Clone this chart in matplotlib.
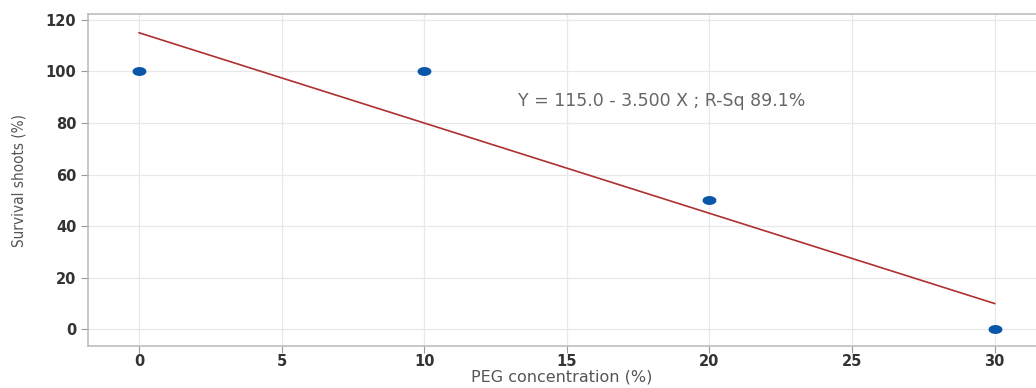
import numpy as np
import matplotlib
matplotlib.use("Agg")
import matplotlib.pyplot as plt

# data
peg = [0, 10, 20, 30]
survival = [100, 100, 50, 0]
xticks = [0, 5, 10, 15, 20, 25, 30]
yticks = [0, 20, 40, 60, 80, 100, 120]

# linear fit (gives Y = 115.0 - 3.500 X)
slope, intercept = np.polyfit(peg, survival, 1)
fit_x = np.array([min(peg), max(peg)])
fit_y = intercept + slope * fit_x
r = np.corrcoef(peg, survival)[0, 1]
eq = "Y = %.1f - %.3f X ; R-Sq %.1f%%" % (intercept, -slope, r ** 2 * 100)

# flattened ellipse marker like the original dots
t = np.linspace(0, 2 * np.pi, 40)
ell = np.column_stack([np.cos(t), 0.6 * np.sin(t)])

fig = plt.figure(figsize=(10.36, 3.88), dpi=100)
ax = fig.add_axes([0.085, 0.108, 0.915, 0.856])

ax.plot(fit_x, fit_y, color="#b03030", lw=1.2, zorder=2)
ax.plot(peg, survival, ls="none", marker=ell, ms=9, color="#0a56a8", zorder=3)

ax.text(13.3, 88.5, eq, fontsize=12.5, color="#666666", va="center")

ax.set_xlim(-1.79, 31.45)
ax.set_ylim(-6.5, 122.3)
ax.set_xticks(xticks)
ax.set_yticks(yticks)
ax.grid(True, color="#e8e8e8", lw=0.9)
ax.set_axisbelow(True)

for s in ["left", "bottom", "top"]:
    ax.spines[s].set_color("#bdbdbd")
    ax.spines[s].set_linewidth(1.2)
ax.spines["right"].set_visible(False)

ax.tick_params(length=5, width=0.8, color="#9a9a9a", labelsize=10.5, labelcolor="#333333")
ax.tick_params(axis="x", pad=1)
for lab in ax.get_xticklabels() + ax.get_yticklabels():
    lab.set_fontweight("bold")

ax.set_xlabel("PEG concentration (%)", fontsize=11.5, color="#555555", labelpad=0)
ax.set_ylabel("Survival shoots (%)", fontsize=11, color="#555555",
              family="DejaVu Sans", stretch="condensed", labelpad=14)

fig.savefig("out.png", dpi=100)
